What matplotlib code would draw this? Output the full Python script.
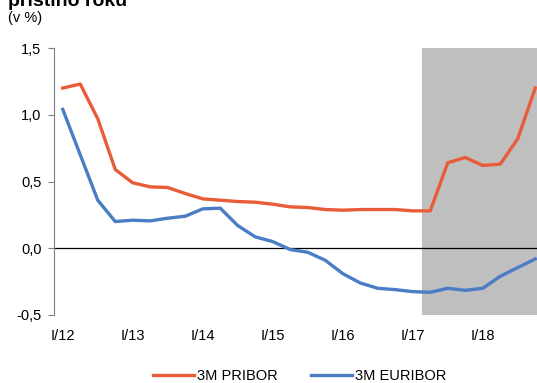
import matplotlib
matplotlib.use("Agg")
import matplotlib.pyplot as plt
from matplotlib.ticker import FuncFormatter

plt.rcParams['font.family'] = ['Liberation Sans', 'DejaVu Sans']

# Quarterly 3M rates, Q1 2012 - Q4 2018
quarters = [f"{q}/{y}" for y in range(12, 19) for q in ("I", "II", "III", "IV")]
pribor = [1.20, 1.23, 0.97, 0.59, 0.49, 0.46, 0.455, 0.41,
          0.37, 0.36, 0.35, 0.345, 0.33, 0.31, 0.305, 0.29,
          0.285, 0.29, 0.29, 0.29, 0.28, 0.28, 0.64, 0.68,
          0.62, 0.63, 0.82, 1.20]
euribor = [1.04, 0.70, 0.36, 0.20, 0.21, 0.205, 0.225, 0.24,
           0.295, 0.30, 0.17, 0.085, 0.05, -0.01, -0.03, -0.09,
           -0.19, -0.26, -0.30, -0.31, -0.325, -0.33, -0.30, -0.315,
           -0.30, -0.21, -0.145, -0.08]
year_labels = ["I/12", "I/13", "I/14", "I/15", "I/16", "I/17", "I/18"]
forecast_start = 20.5

W, H = 537, 383
fig = plt.figure(figsize=(W / 100, H / 100), dpi=100)
ax = fig.add_axes([54 / W, 1 - 315 / H, (537 - 54) / W, (315 - 48) / H])

x = list(range(len(quarters)))
ax.axvspan(forecast_start, 30, color="#BFBFBF", lw=0, zorder=0)
ax.axhline(0, color="black", lw=0.9, zorder=1)
ax.plot(x, pribor, color="#E95C3A", lw=2.4, label="3M PRIBOR", zorder=3)
ax.plot(x, euribor, color="#4A7DC6", lw=2.4, label="3M EURIBOR", zorder=3)

ax.set_xlim(-0.5, 27.1)
ax.set_ylim(-0.5, 1.5)
ax.set_yticks([-0.5, 0.0, 0.5, 1.0, 1.5])
ax.yaxis.set_major_formatter(FuncFormatter(lambda v, p: f"{v:.1f}".replace(".", ",")))
ax.set_xticks(range(0, 28, 4))
ax.set_xticklabels(year_labels)
ax.tick_params(axis="x", length=0, pad=10, labelsize=10.5)
ax.tick_params(axis="y", length=4, color="#7F7F7F", pad=5, labelsize=10.5)
for s in ("top", "right", "bottom"):
    ax.spines[s].set_visible(False)
ax.spines["left"].set_color("#7F7F7F")

fig.text(8 / W, 1 - 5.5 / H, "příštího roku", fontsize=14, fontweight="bold",
         va="baseline", ha="left")
fig.text(8 / W, 1 - 18 / H, "(v %)", fontsize=10.5, va="center", ha="left")

fig.legend(loc="center", bbox_to_anchor=(300 / W, 1 - 376 / H), ncol=2,
           frameon=False, fontsize=10.5, handlelength=2.8, columnspacing=2.3,
           handletextpad=0.2)

fig.savefig("out.png", dpi=100)
